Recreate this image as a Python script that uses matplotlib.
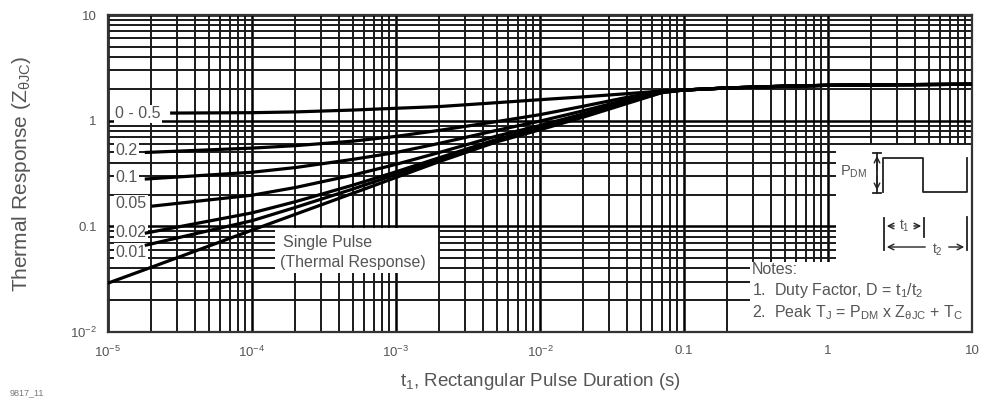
import matplotlib
matplotlib.use("Agg")
import matplotlib.pyplot as plt
from matplotlib.patches import Rectangle
from matplotlib.ticker import LogLocator, FixedLocator, NullFormatter
import numpy as np

plt.rcParams['font.family'] = ['Liberation Sans', 'DejaVu Sans']
plt.rcParams['mathtext.fontset'] = 'custom'
plt.rcParams['mathtext.rm'] = 'Liberation Sans'
plt.rcParams['mathtext.it'] = 'Liberation Sans'
plt.rcParams['mathtext.default'] = 'regular'

# curve data (t in s, Z in normalised units)
t_main = [1e-4, 2e-4, 5e-4, 1e-3, 2e-3, 5e-3, 1e-2, 2e-2, 4e-2, 7e-2]
tail_t = [0.1, 0.2, 0.5, 1, 3, 10]
tail_z = [1.95, 2.04, 2.12, 2.16, 2.19, 2.21]

d05_t0, d05_z = 2.7e-5, [1.18, 1.19, 1.21, 1.26, 1.31, 1.36, 1.48, 1.58, 1.68, 1.80, 1.91]
d02_t0, d02_z = 1.8e-5, [0.50, 0.55, 0.58, 0.64, 0.71, 0.81, 0.98, 1.14, 1.37, 1.66, 1.91]
d01_t0, d01_z = 1.8e-5, [0.28, 0.325, 0.36, 0.43, 0.50, 0.61, 0.81, 0.99, 1.24, 1.58, 1.89]
d005_t0, d005_z = 2.0e-5, [0.155, 0.197, 0.233, 0.305, 0.386, 0.50, 0.715, 0.90, 1.16, 1.53, 1.87]
d002_t0, d002_z = 1.8e-5, [0.086, 0.134, 0.171, 0.245, 0.328, 0.446, 0.665, 0.86, 1.12, 1.50, 1.86]
d001_t0, d001_z = 1.8e-5, [0.066, 0.113, 0.151, 0.225, 0.31, 0.43, 0.65, 0.845, 1.10, 1.48, 1.85]
single_t = [1e-5, 2e-5] + t_main
single_z = [0.029, 0.041, 0.092, 0.13, 0.205, 0.29, 0.41, 0.63, 0.82, 1.08, 1.45, 1.84]

labels = ['0 - 0.5', '0.2', '0.1', '0.05', '0.02', '0.01']
label_y = [1.16, 0.52, 0.29, 0.164, 0.088, 0.057]

x_ticks = [1e-5, 1e-4, 1e-3, 1e-2, 0.1, 1, 10]
x_ticklabels = ['$10^{-5}$', '$10^{-4}$', '$10^{-3}$', '$10^{-2}$', '0.1', '1', '10']
y_ticks = [0.01, 0.1, 1, 10]
y_ticklabels = ['$10^{-2}$', '0.1', '1', '10']

TXT = '#555555'
W, H = 984, 401
fig = plt.figure(figsize=(W / 100, H / 100), dpi=100)
L, R, T, B = 108, 972, 15, 332
ax = fig.add_axes([L / W, 1 - B / H, (R - L) / W, (B - T) / H])
ax.set_xscale('log')
ax.set_yscale('log')
ax.set_xlim(1e-5, 10)
ax.set_ylim(0.01, 10)

ax.xaxis.set_major_locator(FixedLocator(x_ticks))
ax.yaxis.set_major_locator(FixedLocator(y_ticks))
ax.xaxis.set_minor_locator(LogLocator(base=10, subs=np.arange(2, 10), numticks=20))
ax.yaxis.set_minor_locator(LogLocator(base=10, subs=np.arange(2, 10), numticks=20))
ax.xaxis.set_minor_formatter(NullFormatter())
ax.yaxis.set_minor_formatter(NullFormatter())
ax.set_xticklabels(x_ticklabels)
ax.set_yticklabels(y_ticklabels)
ax.tick_params(which='both', length=0, labelsize=9.5, colors=TXT, pad=8)
ax.tick_params(axis='x', pad=9)
ax.set_axisbelow(True)
ax.grid(which='major', color='black', lw=1.8)
ax.grid(which='minor', color='#1a1a1a', lw=1.4)
for s in ax.spines.values():
    s.set_color('#333333')
    s.set_linewidth(1.6)


def af(x, y):
    # pixel position -> axes fraction
    return ((x - L) / (R - L), (B - y) / (B - T))


def wbox(x0, y0, x1, y1):
    p = af(x0, y1)
    ax.add_patch(Rectangle(p, (x1 - x0) / (R - L), (y1 - y0) / (B - T),
                           transform=ax.transAxes, facecolor='white',
                           edgecolor='none', zorder=2))


wbox(275, 228, 438, 273)
wbox(836, 145, R - 1, 262)
wbox(750, 262, R - 1, B - 1)

lw = 2.3
for t0, z in [(d05_t0, d05_z), (d02_t0, d02_z), (d01_t0, d01_z),
              (d005_t0, d005_z), (d002_t0, d002_z), (d001_t0, d001_z)]:
    ax.plot([t0] + t_main + tail_t, z + tail_z, color='black', lw=lw,
            zorder=4, solid_capstyle='butt')
ax.plot(single_t + tail_t, single_z + tail_z, color='black', lw=lw, zorder=4)

for lab, yv in zip(labels, label_y):
    ax.text(1.12e-5, yv, lab, fontsize=11.5, color=TXT, va='center',
            ha='left', zorder=3,
            bbox=dict(facecolor='white', edgecolor='none', pad=1.0))

tx, ty = af(283, 243)
ax.text(tx, ty, 'Single Pulse', transform=ax.transAxes, fontsize=11.5,
        color=TXT, va='center', zorder=3)
tx, ty = af(280, 262)
ax.text(tx, ty, '(Thermal Response)', transform=ax.transAxes, fontsize=11.5,
        color=TXT, va='center', zorder=3)

# notes
for yy, s in [(270, 'Notes:'), (291, '1.  Duty Factor, D = t$_1$/t$_2$'),
              (313, '2.  Peak T$_J$ = P$_{DM}$ x Z$_{θJC}$ + T$_C$')]:
    tx, ty = af(752, yy)
    ax.text(tx, ty, s, transform=ax.transAxes, fontsize=11.5, color=TXT,
            va='center', zorder=3)


# pulse waveform inset
def pline(xs, ys):
    pts = [af(x, y) for x, y in zip(xs, ys)]
    ax.plot([p[0] for p in pts], [p[1] for p in pts], transform=ax.transAxes,
            color='#222222', lw=1.3, zorder=5, clip_on=False)


def parrow(x0, y0, x1, y1):
    ax.annotate('', xy=af(x1, y1), xytext=af(x0, y0), xycoords='axes fraction',
                arrowprops=dict(arrowstyle='->', lw=1.0, color='#222222'), zorder=5)


pline([883, 883, 923, 923, 967, 967], [192, 158, 158, 192, 192, 158])
pline([877, 877], [153, 193])
pline([873, 881], [153, 153])
pline([873, 881], [193, 193])
parrow(877, 173, 877, 153)
parrow(877, 173, 877, 193)
tx, ty = af(840, 172)
ax.text(tx, ty, 'P$_{DM}$', transform=ax.transAxes, fontsize=10.5, color=TXT,
        va='center', zorder=5)
pline([884, 884], [218, 250])
pline([924, 924], [218, 237])
pline([967, 967], [217, 250])
parrow(897, 226, 884, 226)
parrow(911, 226, 924, 226)
tx, ty = af(904, 226)
ax.text(tx, ty, 't$_1$', transform=ax.transAxes, fontsize=10, color=TXT,
        va='center', ha='center', zorder=5)
parrow(928, 247, 884, 247)
parrow(946, 247, 967, 247)
tx, ty = af(937, 250)
ax.text(tx, ty, 't$_2$', transform=ax.transAxes, fontsize=10, color=TXT,
        va='center', ha='center', zorder=5)

ax.set_xlabel('t$_1$, Rectangular Pulse Duration (s)', fontsize=13.5, color=TXT)
ax.set_ylabel('Thermal Response (Z$_{θJC}$)', fontsize=15, color=TXT)
ax.xaxis.label.set_va('center')
ax.yaxis.label.set_va('center')
ax.xaxis.set_label_coords(0.5, (B - 381) / (B - T))
ax.yaxis.set_label_coords((22 - L) / (R - L), 0.5)
fig.text(10 / W, 1 - 393 / H, '9817_11', fontsize=6.5, color='#777777', va='center')

fig.savefig('out.png', dpi=100)
